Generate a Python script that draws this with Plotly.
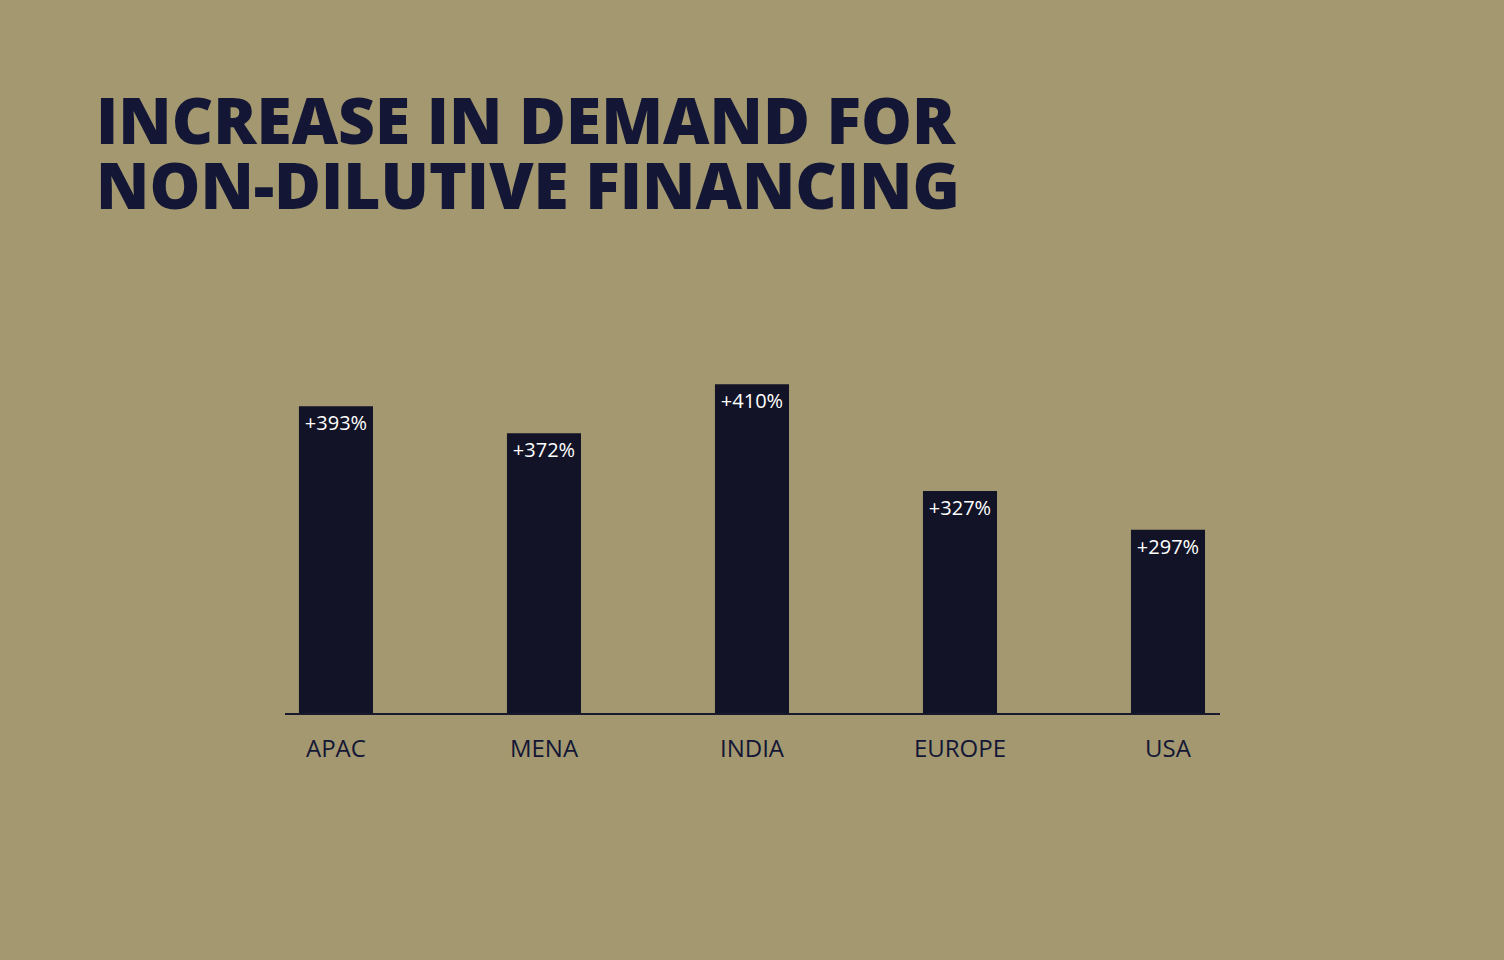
import plotly.graph_objects as go

# Data
regions = ["APAC", "MENA", "INDIA", "EUROPE", "USA"]
increase_pct = [393, 372, 410, 327, 297]
bar_labels = ["+393%", "+372%", "+410%", "+327%", "+297%"]
title_lines = ["INCREASE IN DEMAND FOR", "NON-DILUTIVE FINANCING"]

bg = "#A49870"
navy = "#131735"
bar_color = "#121326"

fig = go.Figure(go.Bar(
    x=regions,
    y=increase_pct,
    text=bar_labels,
    textposition="inside",
    insidetextanchor="end",
    textangle=0,
    textfont=dict(family="Open Sans", size=20, color="white"),
    marker=dict(color=bar_color, line=dict(width=0)),
    width=0.356,
    hoverinfo="skip",
))

# two-line title as annotations (tight line spacing)
# plot area spans y = 300..713 px, x = 285..1220 px
for i, line in enumerate(title_lines):
    fig.add_annotation(
        text=line, xref="paper", yref="paper",
        x=-(285 - 94) / 935, xanchor="left",
        y=(713 - (120 + i * 64)) / 413, yanchor="middle",
        showarrow=False,
        font=dict(family="Open Sans", size=64, color=navy, weight=800),
    )

fig.update_layout(
    width=1504,
    height=960,
    paper_bgcolor=bg,
    plot_bgcolor="rgba(0,0,0,0)",
    margin=dict(l=285, r=284, t=300, b=247),
    showlegend=False,
    uniformtext=dict(minsize=20, mode="show"),
    xaxis=dict(
        type="category",
        range=[-0.245, 4.25],
        showline=True, linecolor="#1a1a2e", linewidth=2,
        showgrid=False, zeroline=False,
        ticks="outside", ticklen=13, tickcolor="rgba(0,0,0,0)",
        tickfont=dict(family="Open Sans", size=24, color=navy),
        fixedrange=True,
    ),
    yaxis=dict(
        range=[154.5, 475.5],
        visible=False,
        showgrid=False, zeroline=False,
        fixedrange=True,
    ),
)

fig.write_html(
    "out.html",
    config={"displayModeBar": False},
    post_script="document.body.style.margin='0';document.body.style.overflow='hidden';",
)
